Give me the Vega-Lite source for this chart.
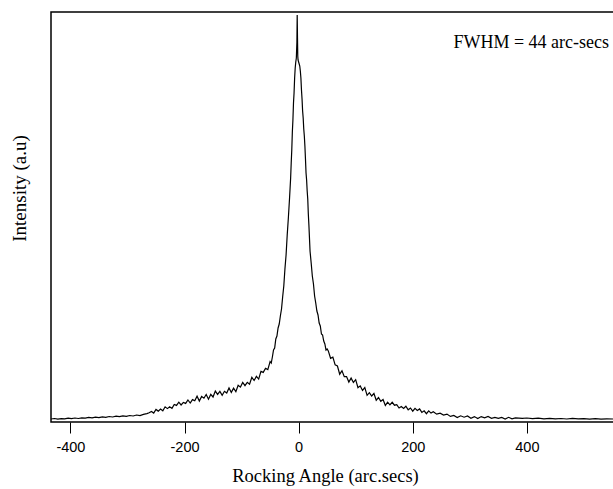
{
  "$schema": "https://vega.github.io/schema/vega-lite/v6.json",
  "autosize": {"type": "none"},
  "padding": {"left": 51, "top": 12, "right": 0, "bottom": 67},
  "width": 564,
  "height": 410,
  "background": "white",
  "config": {"view": {"stroke": "black", "strokeWidth": 1.5}},
  "datasets": {
    "curve": [
      {"a": -434, "h": 3.0}, {"a": -428, "h": 3.5}, {"a": -422, "h": 2.8}, {"a": -416, "h": 3.4}, {"a": -410, "h": 3.1},
      {"a": -404, "h": 3.8}, {"a": -398, "h": 3.3}, {"a": -392, "h": 4.0}, {"a": -386, "h": 3.5}, {"a": -380, "h": 4.2},
      {"a": -374, "h": 3.8}, {"a": -368, "h": 4.6}, {"a": -362, "h": 4.1}, {"a": -356, "h": 4.8}, {"a": -350, "h": 4.4},
      {"a": -344, "h": 5.2}, {"a": -338, "h": 4.7}, {"a": -332, "h": 5.5}, {"a": -326, "h": 5.0}, {"a": -320, "h": 5.8},
      {"a": -314, "h": 5.3}, {"a": -308, "h": 6.2}, {"a": -302, "h": 5.6}, {"a": -296, "h": 6.5}, {"a": -290, "h": 6.0},
      {"a": -284, "h": 7.0}, {"a": -278, "h": 6.4}, {"a": -272, "h": 7.6}, {"a": -266, "h": 8.4}, {"a": -262, "h": 9.2},
      {"a": -258, "h": 10.6}, {"a": -254, "h": 8.9}, {"a": -250, "h": 12.6}, {"a": -246, "h": 10.9}, {"a": -242, "h": 13.0},
      {"a": -238, "h": 11.2}, {"a": -234, "h": 15.2}, {"a": -230, "h": 13.4}, {"a": -226, "h": 15.2}, {"a": -222, "h": 13.6},
      {"a": -218, "h": 17.6}, {"a": -214, "h": 16.6}, {"a": -210, "h": 19.8}, {"a": -206, "h": 17.0}, {"a": -202, "h": 19.6},
      {"a": -198, "h": 18.6}, {"a": -194, "h": 22.0}, {"a": -190, "h": 19.0}, {"a": -186, "h": 22.4}, {"a": -182, "h": 21.2},
      {"a": -178, "h": 25.8}, {"a": -174, "h": 20.9}, {"a": -170, "h": 25.6}, {"a": -166, "h": 23.8}, {"a": -162, "h": 27.6},
      {"a": -158, "h": 22.8}, {"a": -154, "h": 27.6}, {"a": -150, "h": 25.0}, {"a": -146, "h": 30.9}, {"a": -142, "h": 27.6},
      {"a": -138, "h": 30.6}, {"a": -134, "h": 26.6}, {"a": -130, "h": 30.7}, {"a": -126, "h": 29.0}, {"a": -122, "h": 34.1},
      {"a": -118, "h": 29.6}, {"a": -114, "h": 33.9}, {"a": -110, "h": 30.4}, {"a": -106, "h": 36.8}, {"a": -102, "h": 34.9},
      {"a": -98, "h": 39.6}, {"a": -94, "h": 36.3}, {"a": -90, "h": 39.6}, {"a": -86, "h": 37.8}, {"a": -82, "h": 44.7},
      {"a": -78, "h": 41.5}, {"a": -74, "h": 45.6}, {"a": -70, "h": 42.9}, {"a": -66, "h": 50.6}, {"a": -62, "h": 49.6},
      {"a": -58, "h": 53.7}, {"a": -54, "h": 52.4}, {"a": -50, "h": 60.5}, {"a": -48, "h": 59.0}, {"a": -46, "h": 65.0},
      {"a": -44, "h": 72.0}, {"a": -42, "h": 74.0}, {"a": -40, "h": 83.0}, {"a": -38, "h": 86.0}, {"a": -36, "h": 94.0},
      {"a": -34, "h": 98.0}, {"a": -32, "h": 106.0}, {"a": -30, "h": 113.0}, {"a": -28, "h": 125.0}, {"a": -26, "h": 136.0},
      {"a": -24, "h": 153.0}, {"a": -22, "h": 167.0}, {"a": -20, "h": 187.0}, {"a": -18, "h": 204.0}, {"a": -16, "h": 223.0},
      {"a": -14, "h": 244.0}, {"a": -13, "h": 259.0}, {"a": -12, "h": 272.0}, {"a": -11, "h": 290.0}, {"a": -10, "h": 302.0},
      {"a": -9, "h": 319.0}, {"a": -8, "h": 329.0}, {"a": -7, "h": 344.0}, {"a": -6, "h": 354.0}, {"a": -5, "h": 360.0},
      {"a": -4, "h": 364.0}, {"a": -3, "h": 380.0}, {"a": -2.5, "h": 407.0}, {"a": -2, "h": 385.0}, {"a": -1.5, "h": 366.0},
      {"a": -1, "h": 362.0}, {"a": 0, "h": 360.0}, {"a": 1, "h": 358.0}, {"a": 2, "h": 356.0}, {"a": 3, "h": 351.0},
      {"a": 4, "h": 344.0}, {"a": 5, "h": 332.0}, {"a": 6, "h": 323.0}, {"a": 7, "h": 311.0}, {"a": 8, "h": 304.0},
      {"a": 9, "h": 293.0}, {"a": 10, "h": 286.0}, {"a": 11, "h": 276.0}, {"a": 12, "h": 263.0}, {"a": 13, "h": 249.0},
      {"a": 14, "h": 242.0}, {"a": 15, "h": 231.0}, {"a": 16, "h": 223.0}, {"a": 17, "h": 208.0}, {"a": 18, "h": 197.0},
      {"a": 20, "h": 171.0}, {"a": 22, "h": 159.0}, {"a": 24, "h": 146.0}, {"a": 26, "h": 138.0}, {"a": 28, "h": 126.0},
      {"a": 30, "h": 119.0}, {"a": 32, "h": 111.0}, {"a": 34, "h": 107.0}, {"a": 36, "h": 99.0}, {"a": 38, "h": 96.0},
      {"a": 40, "h": 88.0}, {"a": 42, "h": 87.0}, {"a": 44, "h": 81.0}, {"a": 46, "h": 78.0}, {"a": 48, "h": 72.0},
      {"a": 50, "h": 73.0}, {"a": 52, "h": 71.1}, {"a": 56, "h": 63.7}, {"a": 60, "h": 64.9}, {"a": 64, "h": 57.1},
      {"a": 68, "h": 56.0}, {"a": 72, "h": 47.8}, {"a": 76, "h": 51.3}, {"a": 80, "h": 45.3}, {"a": 84, "h": 45.4},
      {"a": 88, "h": 39.9}, {"a": 92, "h": 43.9}, {"a": 96, "h": 39.5}, {"a": 100, "h": 42.3}, {"a": 104, "h": 34.3},
      {"a": 108, "h": 36.1}, {"a": 112, "h": 31.6}, {"a": 116, "h": 34.4}, {"a": 120, "h": 26.7}, {"a": 124, "h": 29.3},
      {"a": 128, "h": 26.0}, {"a": 132, "h": 28.5}, {"a": 136, "h": 21.8}, {"a": 140, "h": 24.5}, {"a": 144, "h": 20.7},
      {"a": 148, "h": 22.5}, {"a": 152, "h": 16.6}, {"a": 156, "h": 19.8}, {"a": 160, "h": 17.2}, {"a": 164, "h": 19.7},
      {"a": 168, "h": 16.8}, {"a": 172, "h": 17.4}, {"a": 176, "h": 14.0}, {"a": 180, "h": 15.5}, {"a": 184, "h": 13.6},
      {"a": 188, "h": 15.8}, {"a": 192, "h": 12.2}, {"a": 196, "h": 14.0}, {"a": 200, "h": 10.8}, {"a": 204, "h": 13.7},
      {"a": 208, "h": 11.5}, {"a": 212, "h": 13.1}, {"a": 216, "h": 9.6}, {"a": 220, "h": 11.2}, {"a": 224, "h": 8.3},
      {"a": 228, "h": 11.1}, {"a": 232, "h": 8.9}, {"a": 236, "h": 10.2}, {"a": 242, "h": 7.8}, {"a": 248, "h": 8.8},
      {"a": 254, "h": 7.0}, {"a": 260, "h": 7.9}, {"a": 266, "h": 5.6}, {"a": 272, "h": 6.6}, {"a": 278, "h": 4.4},
      {"a": 284, "h": 6.2}, {"a": 290, "h": 4.8}, {"a": 296, "h": 6.1}, {"a": 302, "h": 3.8}, {"a": 308, "h": 5.4},
      {"a": 314, "h": 3.4}, {"a": 320, "h": 5.4}, {"a": 326, "h": 4.1}, {"a": 332, "h": 5.5}, {"a": 338, "h": 3.7},
      {"a": 344, "h": 4.6}, {"a": 350, "h": 3.6}, {"a": 356, "h": 4.5}, {"a": 362, "h": 3.0}, {"a": 368, "h": 4.7},
      {"a": 374, "h": 3.2}, {"a": 380, "h": 4.1}, {"a": 392, "h": 3.6}, {"a": 400, "h": 4.0}, {"a": 410, "h": 3.3},
      {"a": 420, "h": 3.8}, {"a": 430, "h": 3.2}, {"a": 440, "h": 3.7}, {"a": 450, "h": 3.1}, {"a": 460, "h": 3.5},
      {"a": 470, "h": 3.0}, {"a": 480, "h": 3.6}, {"a": 490, "h": 3.1}, {"a": 500, "h": 3.4}, {"a": 510, "h": 2.9},
      {"a": 520, "h": 3.3}, {"a": 530, "h": 2.8}, {"a": 540, "h": 3.2}, {"a": 551, "h": 3.0}
    ],
    "note": [{"a": 544, "h": 379, "label": "FWHM = 44 arc-secs"}]
  },
  "layer": [
    {
      "data": {"name": "curve"},
      "mark": {"type": "line", "color": "black", "strokeWidth": 1.2, "clip": true},
      "encoding": {
        "x": {
          "field": "a", "type": "quantitative",
          "scale": {"domain": [-434, 554.5], "nice": false, "zero": false},
          "axis": {
            "values": [-400, -200, 0, 200, 400],
            "labelExpr": "datum.value < 0 ? '-' + abs(datum.value) : '' + datum.value",
            "domain": false, "grid": false,
            "tickSize": 11, "tickColor": "black", "tickWidth": 1,
            "labelFont": "Liberation Sans", "labelFontSize": 14.5, "labelColor": "black", "labelPadding": 7,
            "title": "Rocking Angle (arc.secs)",
            "titleFont": "Liberation Serif", "titleFontSize": 18.5, "titleFontWeight": "normal",
            "titleColor": "black", "titlePadding": 13, "titleX": 274
          }
        },
        "y": {
          "field": "h", "type": "quantitative",
          "scale": {"domain": [0, 410], "nice": false, "zero": false},
          "axis": {
            "domain": false, "grid": false, "ticks": false, "labels": false,
            "title": "Intensity (a.u)",
            "titleFont": "Liberation Serif", "titleFontSize": 19, "titleFontWeight": "normal",
            "titleColor": "black", "titlePadding": 22, "titleY": 176
          }
        }
      }
    },
    {
      "data": {"name": "note"},
      "mark": {"type": "text", "align": "right", "baseline": "middle", "font": "Liberation Serif", "fontSize": 18, "color": "black"},
      "encoding": {
        "x": {"field": "a", "type": "quantitative"},
        "y": {"field": "h", "type": "quantitative"},
        "text": {"field": "label"}
      }
    }
  ]
}
